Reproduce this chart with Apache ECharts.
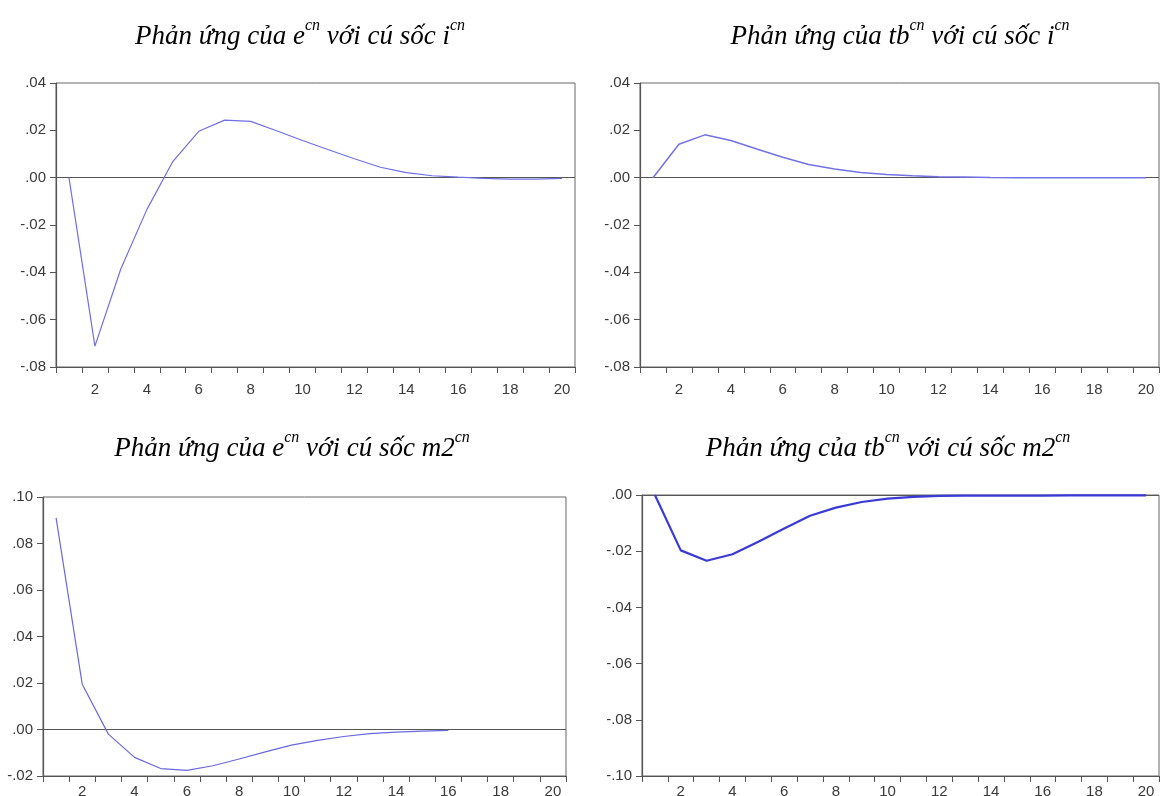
<!DOCTYPE html>
<html>
<head>
<meta charset="utf-8">
<script src="https://cdn.jsdelivr.net/npm/echarts@6/dist/echarts.min.js"></script>
<style>
html,body{margin:0;padding:0;background:#fff;}
#chart{width:1161px;height:796px;}
</style>
</head>
<body>
<div id="chart"></div>
<script>
// ---- data ----
const periods = ['1','2','3','4','5','6','7','8','9','10','11','12','13','14','15','16','17','18','19','20'];
// Response of e to i shock
const eToI = [0, -0.0712, -0.0385, -0.0135, 0.0068, 0.0196, 0.0243, 0.0238, 0.0198, 0.0157, 0.0118, 0.0080, 0.0044, 0.0021, 0.0008, 0.0002, -0.0003, -0.0006, -0.0006, -0.0003];
// Response of tb to i shock
const tbToI = [0, 0.0141, 0.0181, 0.0157, 0.0121, 0.0086, 0.0056, 0.0037, 0.0022, 0.0013, 0.0008, 0.0004, 0.0003, 0.0001, 0.0000, 0.0000, 0.0000, 0.0000, 0.0000, 0.0000];
// Response of e to m2 shock
const eToM2 = [0.0910, 0.0195, -0.0020, -0.0120, -0.0168, -0.0176, -0.0156, -0.0127, -0.0096, -0.0067, -0.0047, -0.0030, -0.0018, -0.0011, -0.0007, -0.0004, null, null, null, null];
// Response of tb to m2 shock
const tbToM2 = [0, -0.0197, -0.0234, -0.0211, -0.0166, -0.0119, -0.0074, -0.0045, -0.0025, -0.0013, -0.0007, -0.0003, -0.0002, -0.0002, -0.0002, -0.0002, -0.0001, -0.0001, -0.0001, -0.0001];
// y-axis ranges [min, max]
const yRanges = [[-0.08, 0.04], [-0.08, 0.04], [-0.02, 0.10], [-0.10, 0.00]];
const yStep = 0.02;
// panel titles: [response variable, shock variable]
const titles = [['e', 'i'], ['tb', 'i'], ['e', 'm2'], ['tb', 'm2']];

// ---- layout ----
const grids = [
  {left: 56, top: 83, width: 519, height: 284},
  {left: 640, top: 83, width: 519, height: 284},
  {left: 43, top: 497, width: 523, height: 279},
  {left: 642, top: 495, width: 517, height: 281}
];
const xLabelMargins = [15, 15, 8, 8];
const titlePos = [[300, 34], [900, 34], [292, 446], [888, 446]];
const lineColors = ['#6f6fe6', '#7272e6', '#6868e0', '#3a3ad6'];
const lineWidths = [1.2, 1.5, 1.2, 2.2];
const seriesData = [eToI, tbToI, eToM2, tbToM2];

function fmt(v) {
  if (Math.abs(v) < 1e-9) return '.00';
  const s = Math.abs(v).toFixed(2).replace(/^0/, '');
  return (v < 0 ? '-' : '') + s;
}

const labelFont = {color: '#3a3a3a', fontSize: 15, fontFamily: 'Liberation Sans, Arial, sans-serif'};

const option = {
  animation: false,
  backgroundColor: '#fff',
  grid: grids.map(g => Object.assign({show: true, borderColor: '#666', borderWidth: 1, containLabel: false, outerBoundsMode: 'none'}, g)),
  xAxis: grids.map((g, i) => ({
    type: 'category',
    gridIndex: i,
    data: periods,
    boundaryGap: true,
    axisLine: {onZero: false, lineStyle: {color: '#555', width: 1.2}},
    axisTick: {show: true, interval: 0, length: 6, lineStyle: {color: '#555'}},
    axisLabel: Object.assign({interval: (idx) => idx % 2 === 1, margin: xLabelMargins[i]}, labelFont),
    splitLine: {show: false}
  })),
  yAxis: grids.map((g, i) => ({
    type: 'value',
    gridIndex: i,
    min: yRanges[i][0],
    max: yRanges[i][1],
    interval: yStep,
    axisLine: {show: true, onZero: false, lineStyle: {color: '#555', width: 1.2}},
    axisTick: {show: true, length: 6, lineStyle: {color: '#555'}},
    axisLabel: Object.assign({formatter: fmt, margin: 10}, labelFont),
    splitLine: {show: false}
  })),
  series: seriesData.map((d, i) => ({
    type: 'line',
    xAxisIndex: i,
    yAxisIndex: i,
    data: d,
    showSymbol: false,
    symbol: 'none',
    connectNulls: false,
    lineStyle: {color: lineColors[i], width: lineWidths[i]},
    z: 3,
    markLine: {
      silent: true,
      symbol: 'none',
      label: {show: false},
      lineStyle: {color: '#555', width: 1.2, type: 'solid'},
      data: [{yAxis: 0}],
      z: 2
    }
  })),
  graphic: titles.map((t, i) => ({
    type: 'text',
    x: titlePos[i][0],
    y: titlePos[i][1],
    style: {
      text: '{n|Phản ứng của ' + t[0] + '}{s|cn}{n| với cú sốc ' + t[1] + '}{s|cn}',
      align: 'center',
      verticalAlign: 'middle',
      rich: {
        n: {fontSize: 27, fontStyle: 'italic', fontFamily: 'Liberation Serif, Times New Roman, serif', fill: '#000', lineHeight: 32, verticalAlign: 'bottom'},
        s: {fontSize: 16, fontStyle: 'italic', fontFamily: 'Liberation Serif, Times New Roman, serif', fill: '#000', lineHeight: 20, verticalAlign: 'top'}
      }
    }
  }))
};

const chart = echarts.init(document.getElementById('chart'), null, {renderer: 'canvas'});
chart.setOption(option);
</script>
</body>
</html>
